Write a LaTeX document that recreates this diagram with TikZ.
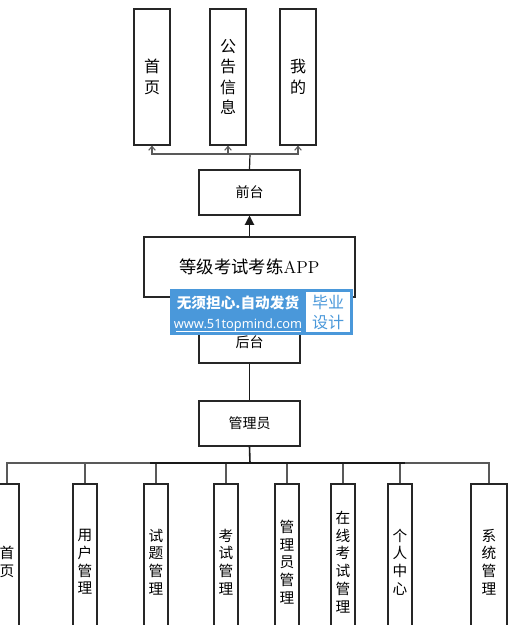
\documentclass[tikz,border=0pt]{standalone}
\usepackage{fontspec}
\newfontfamily\cjk{Noto Sans CJK SC}
\newfontfamily\wmsans{Noto Sans}
\usetikzlibrary{arrows.meta}
\definecolor{wmblue}{RGB}{74,152,218}
\tikzset{
  box/.style={draw=black!85, line width=0.8pt, fill=white, inner sep=0pt},
  topbox/.style={box, minimum width=27pt, minimum height=102pt, align=center, font=\cjk\fontsize{12}{15.4}\selectfont},
  midbox/.style={box, minimum width=75.75pt, minimum height=33.75pt, font=\cjk\fontsize{10.5}{12}\selectfont},
  botbox/.style={box, minimum width=18pt, minimum height=117pt, align=center, font=\cjk\fontsize{11}{13.3}\selectfont},
  conn/.style={draw=black!65, line width=0.8pt},
  dconn/.style={draw=black!90, line width=0.9pt},
  uparrow/.style={conn, -{Straight Barb[length=3pt,width=5pt]}},
}
\begin{document}
\begin{tikzpicture}[x=0.75pt, y=-0.75pt]
\useasboundingbox (0,0) rectangle (525,625);
\clip (0,0) rectangle (525,625);
% top boxes
\node[topbox] (t1) at (152,77) {首\\页};
\node[topbox] (t2) at (228,77) {公\\告\\信\\息};
\node[topbox] (t3) at (298,77) {我\\的};
% middle
\node[midbox] (qt) at (249.5,192.5) {前台};
\node[box, minimum width=158.25pt, minimum height=45pt] (app) at (249.5,267) {{\cjk\fontsize{13}{15}\selectfont 等级考试考练}{\fontsize{13}{15}\selectfont APP}};
\node[midbox, minimum height=32.25pt] (ht) at (249.5,341.5) {};
\node[midbox] (gly) at (249.5,423.5) {管理员};
% bottom boxes
\node[botbox] (b1) at (7,562) {首\\页};
\node[botbox] (b2) at (85,562) {用\\户\\管\\理};
\node[botbox] (b3) at (156,562) {试\\题\\管\\理};
\node[botbox] (b4) at (226,562) {考\\试\\管\\理};
\node[botbox] (b5) at (287,562) {管\\理\\员\\管\\理};
\node[botbox] (b6) at (343,562) {在\\线\\考\\试\\管\\理};
\node[botbox] (b7) at (400,562) {个\\人\\中\\心};
\node[botbox, minimum width=27pt] (b8) at (489,562) {系\\统\\管\\理};
% connectors top
\coordinate (jt) at (250,154);
\draw[dconn] (qt.north) -- (jt);
\draw[uparrow] (jt) -| (t1.south);
\draw[uparrow] (jt) -| (t2.south);
\draw[uparrow] (jt) -| (t3.south);
\draw[dconn, -{Triangle[length=7pt,width=7pt]}] (app.north) -- (qt.south);
\draw[dconn] (app.south) -- (ht.north);
\draw[dconn] (ht.south) -- (gly.north);
% bus
\coordinate (jb) at (250,463);
\draw[dconn, line width=1.2pt] (gly.south) -- (jb);
\foreach \b in {b1,b2,b3,b4,b5,b6,b7,b8}{
  \draw[conn] (jb) -| (\b.north);
}
\draw[dconn, line width=1.2pt] (150,463) -- (405,463);
% 后台 label
\node[font=\cjk\fontsize{10.5}{12}\selectfont] (htl) at (249.5,342) {后台};
% watermark
\node[fill=wmblue, minimum width=137.25pt, minimum height=34.5pt, inner sep=0pt] (wm) at (261.5,312) {};
\node[fill=white, minimum width=33pt, minimum height=30pt, inner sep=0pt] (wmw) at (328,312) {};
\node[font=\cjk\fontsize{12}{15}\selectfont, text=wmblue, align=center] (wmt) at (328,312) {毕业\\设计};
\node[font=\cjk\bfseries\fontsize{11}{12}\selectfont, text=white] (wm1) at (238,303) {无须担心.自动发货};
\node[font=\wmsans\fontsize{9.6}{11}\selectfont, text=white] (wm2) at (238,325) {www.51topmind.com};
\draw[white, line width=0.5pt] (176,331.5) -- (301,331.5);
\end{tikzpicture}
\end{document}
